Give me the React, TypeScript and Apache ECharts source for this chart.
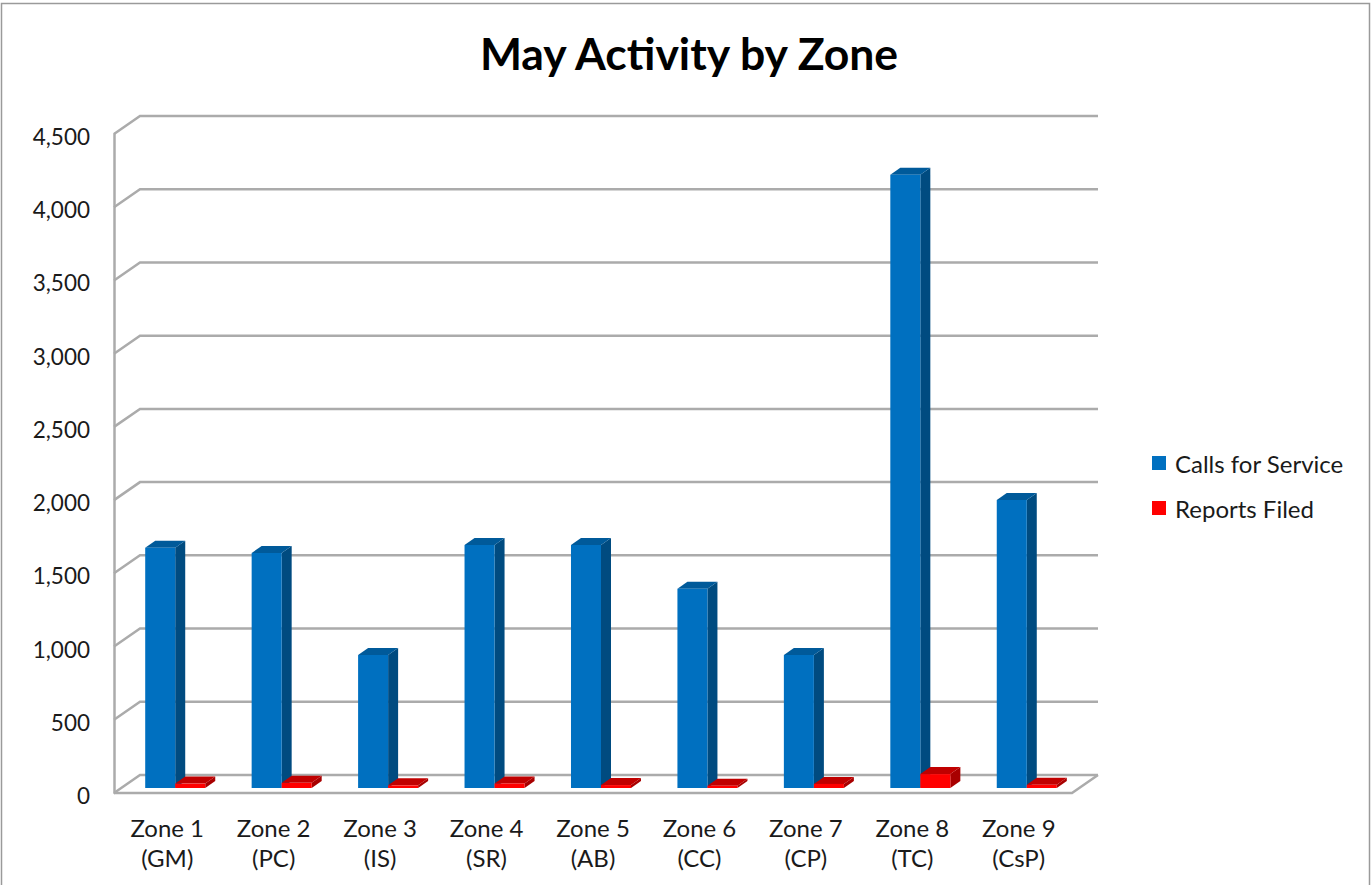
import React, { useEffect, useRef } from "react";
import * as echarts from "echarts";

const categories = [
  "Zone 1\n(GM)", "Zone 2\n(PC)", "Zone 3\n(IS)", "Zone 4\n(SR)", "Zone 5\n(AB)",
  "Zone 6\n(CC)", "Zone 7\n(CP)", "Zone 8\n(TC)", "Zone 9\n(CsP)",
];
const callsForService = [1640, 1605, 908, 1660, 1660, 1360, 908, 4187, 1967];
const reportsFiled = [30, 35, 18, 30, 20, 15, 28, 95, 22];
const gridValues = [0, 500, 1000, 1500, 2000, 2500, 3000, 3500, 4000, 4500];

const FONT = "Lato, 'Open Sans', sans-serif";
const WALL_DX = 26;
const WALL_DY = 18;
const PLANE_DX = 8;
const PLANE_DY = 5;
const BAR_DX = 10;
const BAR_DY = 7;
const BAR_FRACTION = 0.282;
const LINE = "#ababab";

const prism = (offsetSign: number, colors: string[]) => (params: any, api: any) => {
  const idx = api.value(0);
  const base = api.coord([idx, 0]);
  const top = api.coord([idx, api.value(1)]);
  const band = api.size([1, 0])[0];
  const w = band * BAR_FRACTION;
  const x0 = base[0] + PLANE_DX + (offsetSign < 0 ? -w : 0);
  const x1 = x0 + w;
  const yB = base[1] - PLANE_DY;
  const yT = top[1] - PLANE_DY;
  return {
    type: "group",
    children: [
      {
        type: "polygon",
        shape: { points: [[x1, yT], [x1 + BAR_DX, yT - BAR_DY], [x1 + BAR_DX, yB - BAR_DY], [x1, yB]] },
        style: { fill: colors[1] },
      },
      {
        type: "polygon",
        shape: { points: [[x0, yT], [x0 + BAR_DX, yT - BAR_DY], [x1 + BAR_DX, yT - BAR_DY], [x1, yT]] },
        style: { fill: colors[2] },
      },
      {
        type: "rect",
        shape: { x: x0, y: yT, width: w, height: yB - yT },
        style: { fill: colors[0] },
      },
    ],
  };
};

const wallLine = (params: any, api: any) => {
  const cs = params.coordSys;
  const y = api.coord([0, api.value(1)])[1];
  const left = cs.x;
  const right = cs.x + cs.width;
  const children: any[] = [
    {
      type: "polyline",
      shape: { points: [[left, y], [left + WALL_DX, y - WALL_DY], [right + WALL_DX, y - WALL_DY]] },
      style: { stroke: LINE, lineWidth: 2.5, fill: "none" },
    },
  ];
  if (api.value(1) === 0) {
    children.push({
      type: "polyline",
      shape: { points: [[left, y], [right, y], [right + WALL_DX, y - WALL_DY]] },
      style: { stroke: LINE, lineWidth: 2.5, fill: "none" },
    });
  }
  return { type: "group", children };
};

export default function App() {
  const ref = useRef<HTMLDivElement>(null);
  useEffect(() => {
    const chart = echarts.init(ref.current!, undefined, { renderer: "svg" });
    chart.setOption({
      animation: false,
      backgroundColor: "#ffffff",
      textStyle: { fontFamily: FONT },
      title: {
        text: "May Activity by Zone",
        left: 684,
        top: 25,
        textAlign: "center",
        textStyle: { fontFamily: FONT, fontSize: 44.5, fontWeight: "bold", color: "#000" },
      },
      legend: {
        orient: "vertical",
        left: 1152,
        top: 451,
        padding: 0,
        icon: "rect",
        itemWidth: 14,
        itemHeight: 14,
        itemGap: 21,
        data: ["Calls for Service", "Reports Filed"],
        textStyle: { fontFamily: FONT, fontSize: 24, color: "#1a1a1a", padding: [0, 0, 0, 4] },
      },
      grid: { left: 114, top: 134, width: 958, height: 659, containLabel: false },
      xAxis: {
        type: "category",
        data: categories,
        axisLine: { show: false },
        axisTick: { show: false },
        axisLabel: { color: "#1a1a1a", fontSize: 24, lineHeight: 30, margin: 19, interval: 0, fontFamily: FONT },
      },
      yAxis: {
        type: "value",
        min: 0,
        max: 4500,
        interval: 500,
        splitLine: { show: false },
        axisTick: { show: false },
        axisLine: { show: true, lineStyle: { color: LINE, width: 2.5 } },
        axisLabel: {
          color: "#1a1a1a",
          fontSize: 22.5,
          margin: 24,
          fontFamily: FONT,
          formatter: (v: number) => "{t|" + v.toLocaleString("en-US") + "}",
          rich: {
            t: { fontFamily: FONT, fontSize: 22.5, color: "#1a1a1a", padding: [5, 0, 0, 0] },
          },
        },
      },
      series: [
        {
          type: "custom",
          name: "walls",
          z: 1,
          silent: true,
          clip: false,
          encode: { x: 0, y: 1 },
          data: gridValues.map((v) => [0, v]),
          renderItem: wallLine,
        },
        {
          type: "custom",
          name: "Calls for Service",
          z: 2,
          clip: false,
          itemStyle: { color: "#0070C0" },
          encode: { x: 0, y: 1 },
          data: callsForService.map((v, i) => [i, v]),
          renderItem: prism(-1, ["#0070C0", "#004B80", "#005A9A"]),
        },
        {
          type: "custom",
          name: "Reports Filed",
          z: 3,
          clip: false,
          itemStyle: { color: "#FF0000" },
          encode: { x: 0, y: 1 },
          data: reportsFiled.map((v, i) => [i, v]),
          renderItem: prism(1, ["#FF0000", "#A80000", "#C00000"]),
        },
      ],
      graphic: [
        {
          type: "rect",
          silent: true,
          z: -1,
          shape: { x: 1.5, y: 3.5, width: 1368, height: 890 },
          style: { fill: "none", stroke: "#9a9a9a", lineWidth: 1.5 },
        },
      ],
    });
    return () => chart.dispose();
  }, []);
  return (
    <div
      ref={ref}
      style={{ position: "absolute", left: 0, top: 0, width: 1372, height: 885 }}
    />
  );
}
